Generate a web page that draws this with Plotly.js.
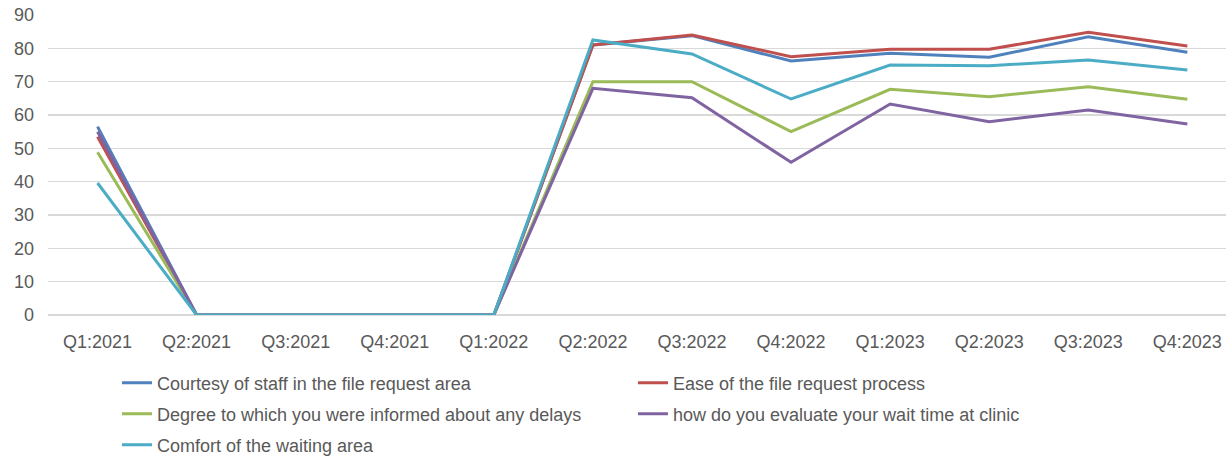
<!DOCTYPE html>
<html>
<head>
<meta charset="utf-8">
<script src="https://cdn.plot.ly/plotly-3.0.1.min.js"></script>
<style>html,body{margin:0;padding:0;background:#fff;}#chart{width:1226px;height:457px;}</style>
</head>
<body>
<div id="chart"></div>
<script>
const quarters = ["Q1:2021","Q2:2021","Q3:2021","Q4:2021","Q1:2022","Q2:2022","Q3:2022","Q4:2022","Q1:2023","Q2:2023","Q3:2023","Q4:2023"];
const courtesy = [56.5, 0, 0, 0, 0, 81, 83.8, 76.2, 78.5, 77.3, 83.5, 78.8];
const ease     = [53.5, 0, 0, 0, 0, 81, 84, 77.5, 79.7, 79.7, 84.8, 80.7];
const degree   = [48.8, 0, 0, 0, 0, 70, 70, 55, 67.7, 65.5, 68.5, 64.7];
const waitTime = [55, 0, 0, 0, 0, 68, 65.2, 45.8, 63.3, 58, 61.5, 57.3];
const comfort  = [39.6, 0, 0, 0, 0, 82.5, 78.3, 64.8, 75, 74.8, 76.5, 73.5];
const names = ["Courtesy of staff in the file request area","Ease of the file request process","Degree to which you were informed about any delays","how do you evaluate your wait time at clinic","Comfort of the waiting area"];
const colors = ["#4F81BD","#C0504D","#9BBB59","#8064A2","#4BACC6"];
const series = [courtesy, ease, degree, waitTime, comfort];
const legendIds = ["legend","legend2","legend3","legend4","legend5"];
// legend placement (container fraction) for each entry: column x, row y
const legX = [0.0954, 0.5163, 0.0954, 0.5163, 0.0954];
const legY = [0.1619, 0.1619, 0.0941, 0.0941, 0.0263];

const traces = series.map((s,i)=>({
  type:"scatter", mode:"lines", x:quarters, y:s, name:names[i],
  line:{color:colors[i], width:3}, legend:legendIds[i]
}));

const font = {family:"Liberation Sans, Arial, sans-serif", size:18, color:"#595959"};

const layout = {
  width:1226, height:457,
  margin:{l:48, r:0, t:15, b:142},
  paper_bgcolor:"#fff", plot_bgcolor:"#fff",
  font:font,
  showlegend:true,
  xaxis:{type:"category", range:[-0.5, 11.39], showgrid:false, zeroline:false, showline:false,
    ticks:"", tickfont:font, ticklabelstandoff:14, fixedrange:true},
  yaxis:{range:[0,90], dtick:10, tick0:0, showgrid:true, gridcolor:"#d9d9d9", gridwidth:1.5,
    zeroline:true, zerolinecolor:"#d9d9d9", zerolinewidth:1.5, showline:false, ticks:"",
    tickfont:font, ticklabelstandoff:13}
};
legendIds.forEach((id,i)=>{
  layout[id] = {orientation:"h", xref:"container", yref:"container", x:legX[i], y:legY[i],
    xanchor:"left", yanchor:"middle", font:font, bgcolor:"rgba(0,0,0,0)"};
});
Plotly.newPlot("chart", traces, layout, {displayModeBar:false, staticPlot:true});
</script>
</body>
</html>
